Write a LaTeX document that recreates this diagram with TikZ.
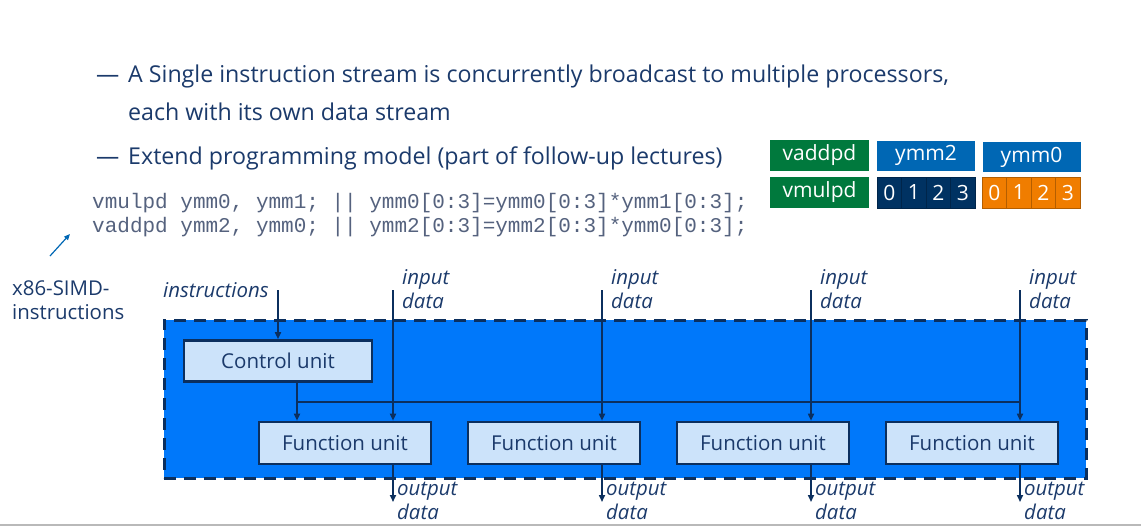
\documentclass[tikz,border=0pt]{standalone}
\usepackage{fontspec}
\setmainfont{Open Sans}
\setmonofont{Liberation Mono}
\usetikzlibrary{arrows.meta}

\definecolor{ink}{HTML}{1B3A6B}
\definecolor{navy}{HTML}{0B2F5E}
\definecolor{codeink}{HTML}{55627E}
\definecolor{simdblue}{HTML}{0078FA}
\definecolor{unitfill}{HTML}{CCE3FA}
\definecolor{opgreen}{HTML}{00793D}
\definecolor{regblue}{HTML}{0067B4}
\definecolor{regnavy}{HTML}{003262}
\definecolor{regorange}{HTML}{F07D00}

\tikzset{
  bullet/.style={anchor=base west, inner sep=0, text=ink, font=\fontsize{23.2}{27}\selectfont},
  code/.style={anchor=base west, inner sep=0, text=codeink, font=\ttfamily\fontsize{21}{24}\selectfont},
  lbl/.style={anchor=base west, inner sep=0, text=ink, font=\itshape\fontsize{20.4}{24}\selectfont},
  side/.style={anchor=base west, inner sep=0, text=ink, font=\fontsize{20.4}{24}\selectfont},
  opbox/.style={fill=opgreen, text=white, minimum width=99pt, minimum height=31pt, inner sep=0, font=\fontsize{21}{24}\selectfont},
  regbox/.style={fill=regblue, text=white, minimum width=98pt, minimum height=30pt, inner sep=0, font=\fontsize{21}{24}\selectfont},
  cell/.style={draw=#1!75!black, line width=0.6pt, fill=#1, text=white, minimum width=24.5pt, minimum height=31pt, inner sep=0, font=\fontsize{21}{24}\selectfont},
  simdbox/.style={fill=simdblue, draw=navy, line width=3pt, dash pattern=on 12pt off 8pt},
  unitbox/.style={draw=navy, fill=unitfill, line width=2.6pt, text=ink, inner sep=0, font=\fontsize{20.5}{24}\selectfont},
  flow/.style={draw=navy, line width=1.6pt, -{Triangle[length=7pt,width=6pt]}},
  wire/.style={draw=navy, line width=1.6pt},
  pointer/.style={draw=regblue, line width=1.2pt, -{Triangle[length=6pt,width=5pt]}}
}

\begin{document}
\begin{tikzpicture}[x=1pt, y=-1pt]
  \useasboundingbox (0,0) rectangle (1141,527);

  % bullet points
  \node[bullet] (d1) at (96,82) {—};
  \node[bullet] (b1) at (128,82) {A Single instruction stream is concurrently broadcast to multiple processors,};
  \node[bullet] (b1b) at (128,121) {each with its own data stream};
  \node[bullet] (d2) at (96,164) {—};
  \node[bullet] (b2) at (128,164) {Extend programming model (part of follow-up lectures)};

  % instruction / register legend
  \node[opbox] (vadd) at (819.5,155.5) {vaddpd};
  \node[regbox] (ymm2) at (926,155.5) {ymm2};
  \node[regbox] (ymm0) at (1031.5,157) {ymm0};
  \node[opbox] (vmul) at (819.5,192.5) {vmulpd};
  \foreach \i in {0,...,3} {
    \node[cell=regnavy] (n\i) at (889.25+24.5*\i,192.5) {\i};
    \node[cell=regorange] (o\i) at (994.25+24.5*\i,192.5) {\i};
  }

  % code
  \node[code] (c1) at (92,208) {vmulpd ymm0, ymm1; || ymm0[0:3]=ymm0[0:3]*ymm1[0:3];};
  \node[code] (c2) at (92,232) {vaddpd ymm2, ymm0; || ymm2[0:3]=ymm2[0:3]*ymm0[0:3];};

  % side label with pointer
  \node[side] (x86) at (12,295) {x86-SIMD-};
  \node[side] (x86b) at (12,319) {instructions};
  \coordinate (pa) at (50,256);
  \coordinate (pb) at (70,234);
  \draw[pointer] (pa) -- (pb);

  % SIMD block
  \node[simdbox, minimum width=922pt, minimum height=158pt] (simd) at (625,399) {};
  \node[unitbox, minimum width=188pt, minimum height=41pt] (cu) at (278,361) {Control unit};
  \foreach \k in {1,...,4} {
    \node[unitbox, minimum width=172pt, minimum height=42pt] (fu\k) at (345+209*\k-209,443) {Function unit};
  }

  % instruction input
  \node[lbl] (instr) at (163,297) {instructions};
  \coordinate (instrtop) at (278,290);
  \draw[flow] (instrtop) -- (cu.north);

  % broadcast bus
  \coordinate (busL) at (297,402);
  \coordinate (busR) at (1019,402);
  \draw[flow] (cu.south -| busL) -- (fu1.north -| busL);
  \draw[wire] (busL) -- (busR);

  % data inputs and outputs
  \foreach \k in {1,...,4} {
    \coordinate (in\k) at (393+209*\k-209,290);
    \coordinate (out\k) at (393+209*\k-209,502);
    \node[lbl] (il\k) at (402+209*\k-209,284) {input};
    \node[lbl] (id\k) at (402+209*\k-209,308) {data};
    \node[lbl] (ol\k) at (397+209*\k-209,495) {output};
    \node[lbl] (od\k) at (397+209*\k-209,519) {data};
    \draw[flow] (in\k) -- (fu\k.north -| in\k);
    \draw[flow] (fu\k.south -| out\k) -- (out\k);
  }

  % bottom rule
  \draw[gray!55, line width=2pt] (0,524.5) -- (1141,524.5);
\end{tikzpicture}
\end{document}
